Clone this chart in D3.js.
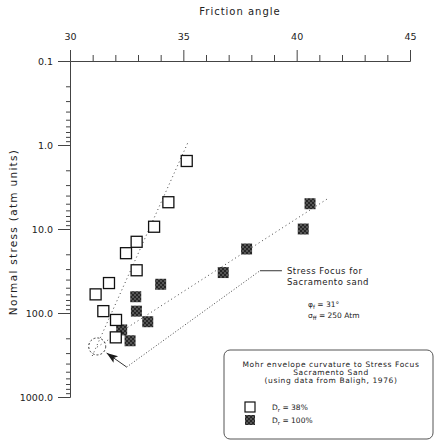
<!DOCTYPE html>
<html>
<head>
<meta charset="utf-8">
<script src="https://cdn.jsdelivr.net/npm/d3@7"></script>
<style>
  body { margin: 0; background: #fff; }
  text { font-family: "DejaVu Sans", sans-serif; fill: #222; }
  .axis path, .axis line { stroke: #444; }
</style>
</head>
<body>
<div id="chart"></div>
<script>
// tick values
let xTicks = [30, 35, 40, 45];
let yTicks = [0.1, 1, 10, 100, 1000];

// Dr = 38% (open squares)
let looseAngle = [35.15, 34.34, 33.71, 32.94, 32.47, 32.94, 31.72, 31.13, 31.47, 32.03, 32.02];
let looseStress = [1.55, 4.8, 9.4, 14.2, 19.4, 31, 44, 60, 95, 121, 195];

// Dr = 100% (hatched squares)
let denseAngle = [40.59, 40.29, 37.79, 36.76, 34.0, 32.9, 32.93, 33.43, 32.28, 32.65];
let denseStress = [5.0, 10, 17.3, 33, 45.5, 64, 95, 127, 159, 214];

// trend lines (angle, stress end points)
let looseTrendAngle = [30.98, 35.19];
let looseTrendStress = [325, 0.95];
let denseTrendAngle = [31.2, 41.4];
let denseTrendStress = [254, 4.3];

// stress focus and the annotation elbow
let focus = [31.2, 250];
let elbow = [32.5, 440];
let labelPoint = [38.38, 31.4];

let svgWidth = 435;
let svgHeight = 443;

let svg = d3.select('#chart')
            .append('svg')
            .attr('width', svgWidth)
            .attr('height', svgHeight);

//mottled fill for the dense sand squares
let defs = svg.append('defs');
let pat = defs.append('pattern')
              .attr('id', 'dots')
              .attr('patternUnits', 'userSpaceOnUse')
              .attr('width', 4)
              .attr('height', 4);
pat.append('rect').attr('width', 4).attr('height', 4).attr('fill', '#262626');
pat.append('circle').attr('cx', 1).attr('cy', 1).attr('r', 0.7).attr('fill', '#a8a8a8');
pat.append('circle').attr('cx', 3).attr('cy', 3).attr('r', 0.7).attr('fill', '#a8a8a8');

defs.append('marker')
    .attr('id', 'head')
    .attr('viewBox', '0 0 14 10')
    .attr('refX', 14).attr('refY', 5)
    .attr('markerWidth', 14).attr('markerHeight', 8)
    .attr('markerUnits', 'userSpaceOnUse')
    .attr('orient', 'auto')
    .append('path')
    .attr('d', 'M0,0 L14,5 L0,10 L3,5 z')
    .attr('fill', '#1a1a1a');

//scales
let x = d3.scaleLinear().domain([30, 45]).range([70, 410]);
let y = d3.scaleLog().domain([0.1, 1000]).range([61, 397]);

let xMinor = d3.range(31, 45).filter(d => d % 5 !== 0);
let yMinor = [];
[0.1, 1, 10, 100].forEach(dec => d3.range(2, 10).forEach(k => yMinor.push(dec * k)));

//top axis
svg.append('g')
   .attr('class', 'axis')
   .attr('transform', `translate(0, ${y(0.1)})`)
   .call(d3.axisTop(x).tickValues(xMinor).tickSize(6).tickSizeOuter(0).tickFormat(''));
svg.append('g')
   .attr('class', 'axis')
   .attr('transform', `translate(0, ${y(0.1)})`)
   .call(d3.axisTop(x).tickValues(xTicks).tickSize(11).tickSizeOuter(0).tickPadding(10))
   .call(g => g.selectAll('text').attr('font-size', 9.5).attr('fill', '#222'));

//left axis
svg.append('g')
   .attr('class', 'axis')
   .attr('transform', `translate(${x(30)}, 0)`)
   .call(d3.axisLeft(y).tickValues(yMinor).tickSize(4).tickSizeOuter(0).tickFormat(''));
svg.append('g')
   .attr('class', 'axis')
   .attr('transform', `translate(${x(30)}, 0)`)
   .call(d3.axisLeft(y).tickValues(yTicks).tickSize(12).tickSizeOuter(0).tickPadding(5).tickFormat(d3.format('.1f')))
   .call(g => g.selectAll('text').attr('font-size', 9.5).attr('fill', '#222'));

//axis titles
svg.append('text')
   .attr('x', 240).attr('y', 15)
   .attr('text-anchor', 'middle')
   .attr('font-size', 10)
   .attr('letter-spacing', 1)
   .text('Friction angle');
svg.append('text')
   .attr('transform', 'translate(17, 232) rotate(-90)')
   .attr('text-anchor', 'middle')
   .attr('font-size', 10.5)
   .attr('letter-spacing', 1.3)
   .text('Normal stress (atm units)');

//trend lines
let trends = [[looseTrendAngle, looseTrendStress], [denseTrendAngle, denseTrendStress]];
trends.forEach(t => {
    svg.append('line')
       .attr('x1', x(t[0][0])).attr('y1', y(t[1][0]))
       .attr('x2', x(t[0][1])).attr('y2', y(t[1][1]))
       .attr('stroke', '#444')
       .attr('stroke-width', 1)
       .attr('stroke-dasharray', '1,3');
});

//stress focus circle + arrow annotation
let fx = x(focus[0]), fy = y(focus[1]);
let ex = x(elbow[0]), ey = y(elbow[1]);
let lx = x(labelPoint[0]), ly = y(labelPoint[1]);
let r = 8.5;
svg.append('circle')
   .attr('cx', fx).attr('cy', fy).attr('r', r)
   .attr('fill', 'none')
   .attr('stroke', '#333')
   .attr('stroke-dasharray', '2,2');
let dx = ex - fx, dy = ey - fy, len = Math.sqrt(dx * dx + dy * dy);
svg.append('line')
   .attr('x1', ex).attr('y1', ey)
   .attr('x2', fx + dx / len * (r + 3)).attr('y2', fy + dy / len * (r + 3))
   .attr('stroke', '#333')
   .attr('marker-end', 'url(#head)');
svg.append('line')
   .attr('x1', ex).attr('y1', ey)
   .attr('x2', lx).attr('y2', ly)
   .attr('stroke', '#444')
   .attr('stroke-dasharray', '1,2');
svg.append('line')
   .attr('x1', lx).attr('y1', ly)
   .attr('x2', lx + 22).attr('y2', ly)
   .attr('stroke', '#333');
svg.append('text')
   .attr('x', lx + 27).attr('y', ly + 3)
   .attr('font-size', 8.5).attr('letter-spacing', 0.5)
   .text('Stress Focus for');
svg.append('text')
   .attr('x', lx + 27).attr('y', ly + 14)
   .attr('font-size', 8.5).attr('letter-spacing', 0.5)
   .text('Sacramento sand');

let phi = svg.append('text')
   .attr('x', lx + 48).attr('y', ly + 36)
   .attr('font-size', 7.5);
phi.append('tspan').text('φ');
phi.append('tspan').attr('font-size', 5.5).attr('dy', 2).text('f');
phi.append('tspan').attr('dy', -2).text(' = 31°');
let sig = svg.append('text')
   .attr('x', lx + 48).attr('y', ly + 47)
   .attr('font-size', 7.5);
sig.append('tspan').text('σ');
sig.append('tspan').attr('font-size', 5.5).attr('dy', 2).text('ff');
sig.append('tspan').attr('dy', -2).text(' = 250 Atm');

//points
let size = 11;
let dense = denseAngle.map((a, i) => ({a: a, s: denseStress[i]}));
let loose = looseAngle.map((a, i) => ({a: a, s: looseStress[i]}));

svg.append('g').selectAll('rect')
   .data(dense)
   .enter()
   .append('rect')
   .attr('x', d => x(d.a) - size / 2)
   .attr('y', d => y(d.s) - size / 2)
   .attr('width', size).attr('height', size)
   .attr('fill', 'url(#dots)');

svg.append('g').selectAll('rect')
   .data(loose)
   .enter()
   .append('rect')
   .attr('x', d => x(d.a) - size / 2)
   .attr('y', d => y(d.s) - size / 2)
   .attr('width', size).attr('height', size)
   .attr('fill', '#fff')
   .attr('stroke', '#111')
   .attr('stroke-width', 1.3);

//legend box
let legend = svg.append('g');
legend.append('rect')
      .attr('x', 224).attr('y', 350)
      .attr('width', 209).attr('height', 89)
      .attr('rx', 6)
      .attr('fill', 'none')
      .attr('stroke', '#555');
let legendLines = ['Mohr envelope curvature to Stress Focus', 'Sacramento Sand', '(using data from Baligh, 1976)'];
legend.selectAll('text.title')
      .data(legendLines)
      .enter()
      .append('text')
      .attr('class', 'title')
      .attr('x', 331).attr('y', (d, i) => 367 + i * 8)
      .attr('text-anchor', 'middle')
      .attr('font-size', 7.5)
      .attr('letter-spacing', 0.6)
      .text(d => d);

let legendItems = [{label: ' = 38%', fill: '#fff', stroke: '#111'}, {label: ' = 100%', fill: 'url(#dots)', stroke: 'none'}];
legendItems.forEach((it, i) => {
    let cy = 407 + i * 13;
    legend.append('rect')
          .attr('x', 245).attr('y', cy - 5)
          .attr('width', 10).attr('height', 10)
          .attr('fill', it.fill)
          .attr('stroke', it.stroke)
          .attr('stroke-width', 1.2);
    let t = legend.append('text')
          .attr('x', 272).attr('y', cy + 3)
          .attr('font-size', 7.5);
    t.append('tspan').text('D');
    t.append('tspan').attr('font-size', 5.5).attr('dy', 2).text('r');
    t.append('tspan').attr('dy', -2).text(it.label);
});
</script>
</body>
</html>
